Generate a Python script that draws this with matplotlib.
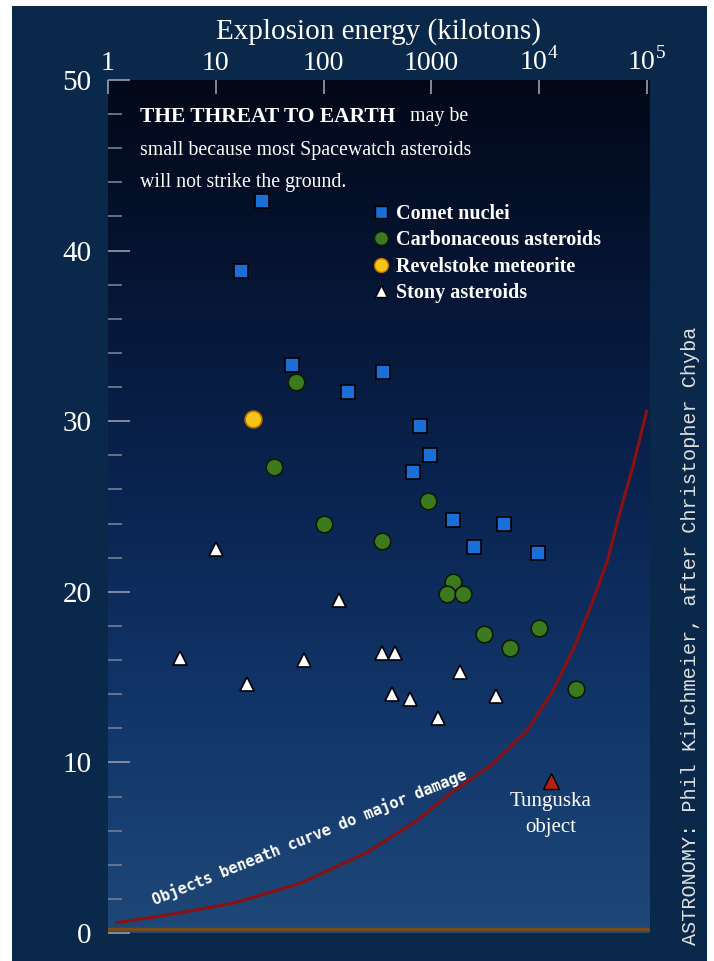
import numpy as np
import matplotlib
matplotlib.use("Agg")
import matplotlib.pyplot as plt
from matplotlib.lines import Line2D
from matplotlib.patches import Rectangle
from matplotlib.ticker import FixedLocator, FixedFormatter, MultipleLocator

plt.rcParams["font.family"] = ["Liberation Serif", "DejaVu Serif"]
plt.rcParams["mathtext.fontset"] = "custom"
plt.rcParams["mathtext.rm"] = "Liberation Serif"

# --------------------------------------------------------------------------
# DATA (energy in kilotons, altitude-like vertical value)
# --------------------------------------------------------------------------
comet_kt = [27, 17, 51, 170, 360, 780, 980, 680, 1580, 4700, 2500, 9800]
comet_h = [42.9, 38.8, 33.3, 31.7, 32.9, 29.7, 28.0, 27.0, 24.2, 24.0, 22.6, 22.3]

carb_kt = [56, 35, 930, 100, 350, 1600, 1400, 1950, 3100, 10000, 5400, 22000]
carb_h = [32.3, 27.3, 25.3, 24.0, 23.0, 20.6, 19.9, 19.9, 17.5, 17.9, 16.7, 14.3]

stony_kt = [10, 140, 4.7, 19.5, 66, 350, 460, 1860, 430, 630, 1150, 4000]
stony_h = [22.5, 19.5, 16.1, 14.6, 16.0, 16.4, 16.4, 15.3, 14.0, 13.7, 12.6, 13.9]

revelstoke_kt = [22]
revelstoke_h = [30.1]

tunguska_kt = [12900]
tunguska_h = [8.9]

curve_kt = [1.2, 3.5, 14.5, 60, 250, 740, 1580, 3700, 7800, 13500,
            21000, 30000, 43000, 56000, 74000, 100000]
curve_h = [0.6, 1.05, 1.75, 2.9, 4.7, 6.6, 8.3, 9.9, 11.9, 14.2,
           16.7, 19.1, 21.8, 24.6, 27.3, 30.6]

x_ticks = [1, 10, 100, 1000, 1e4, 1e5]
x_tick_labels = ["1", "10", "100", "1000", r"10$^4$", r"10$^5$"]
y_ticks = [0, 10, 20, 30, 40, 50]

NAVY = "#0a284a"
WHITE = "white"

# --------------------------------------------------------------------------
# FIGURE
# --------------------------------------------------------------------------
fig = plt.figure(figsize=(7.14, 9.61), dpi=100, facecolor=NAVY)
ax = fig.add_axes([108 / 714, 1 - 933 / 961, 542 / 714, 853 / 961])
ax.set_xscale("log")
ax.set_xlim(1, 10 ** 5.03)
ax.set_ylim(0, 50)

# vertical gradient background of the plot panel
grad = np.linspace(0, 1, 256).reshape(-1, 1)
cmap = matplotlib.colors.LinearSegmentedColormap.from_list(
    "sky", ["#1e4878", "#12366a", "#0a2552", "#061636", "#020818"])
ax.imshow(grad, extent=[0, 1, 0, 1], transform=ax.transAxes, cmap=cmap,
          aspect="auto", origin="lower", zorder=0)

for side in ax.spines.values():
    side.set_visible(False)

# ground line and threshold curve
ax.axhline(0.25, color="#7a4a18", lw=2.5, zorder=1)
ax.plot(curve_kt, curve_h, color="#8c1010", lw=2.2, zorder=2)

# points
ax.plot(comet_kt, comet_h, ls="none", marker="s", ms=10, mfc="#1a6fd6",
        mec="black", mew=1.2, zorder=4)
ax.plot(carb_kt, carb_h, ls="none", marker="o", ms=12, mfc="#3c7a1e",
        mec="#0d1a08", mew=1.2, zorder=4)
ax.plot(stony_kt, stony_h, ls="none", marker="^", ms=10, mfc="white",
        mec="black", mew=1.2, zorder=4)
ax.plot(revelstoke_kt, revelstoke_h, ls="none", marker="o", ms=12,
        mfc="#f5c518", mec="#c07000", mew=1.2, zorder=4)
ax.plot(tunguska_kt, tunguska_h, ls="none", marker="^", ms=11,
        mfc="#b52010", mec="black", mew=1.0, zorder=4)
ax.annotate("Tunguska\nobject", xy=(tunguska_kt[0], tunguska_h[0]),
            xytext=(0, -8), textcoords="offset points", ha="center", va="top",
            color=WHITE, fontsize=15, linespacing=1.45, zorder=5)

# ticks
ax.xaxis.tick_top()
ax.xaxis.set_major_locator(FixedLocator(x_ticks))
ax.xaxis.set_major_formatter(FixedFormatter(x_tick_labels))
ax.xaxis.set_minor_locator(FixedLocator([]))
ax.tick_params(axis="x", which="major", direction="in", length=10, width=1.3,
               color="#8a94a8", labelsize=20, labelcolor=WHITE, pad=3)
ax.set_yticks(y_ticks)
ax.yaxis.set_minor_locator(MultipleLocator(2))
ax.tick_params(axis="y", which="major", direction="in", length=16, width=1.3,
               color="#8a94a8", labelsize=21, labelcolor=WHITE, pad=12)
ax.tick_params(axis="y", which="minor", direction="in", length=10, width=1.3,
               color="#6c7890")
ax.set_xlabel("Explosion energy (kilotons)", color=WHITE, fontsize=21,
              labelpad=6)
ax.xaxis.set_label_position("top")

# legend
handles = [
    Line2D([], [], ls="none", marker="s", ms=8, mfc="#1a6fd6", mec="black"),
    Line2D([], [], ls="none", marker="o", ms=10, mfc="#3c7a1e", mec="#0d1a08"),
    Line2D([], [], ls="none", marker="o", ms=10, mfc="#f5c518", mec="#c07000"),
    Line2D([], [], ls="none", marker="^", ms=8, mfc="white", mec="black"),
]
labels = ["Comet nuclei", "Carbonaceous asteroids", "Revelstoke meteorite",
          "Stony asteroids"]
leg = ax.legend(handles, labels, loc="upper left",
                bbox_to_anchor=(373 / 714, 1 - 204 / 961),
                bbox_transform=fig.transFigure, frameon=False,
                prop={"family": "Liberation Serif", "weight": "bold", "size": 14.5},
                labelcolor=WHITE, handlelength=0.8, handletextpad=0.35,
                labelspacing=0.32, borderpad=0, borderaxespad=0)
leg.set_zorder(6)

# caption block
fig.text(140 / 714, 1 - 117 / 961, "THE THREAT TO EARTH", color=WHITE,
         fontsize=15.5, fontweight="bold", va="center")
fig.text(410 / 714, 1 - 117 / 961, "may be", color=WHITE, fontsize=14.3,
         va="center")
fig.text(140 / 714, 1 - 150 / 961, "small because most Spacewatch asteroids",
         color=WHITE, fontsize=14.3, va="center")
fig.text(140 / 714, 1 - 182 / 961, "will not strike the ground.",
         color=WHITE, fontsize=14.3, va="center")

# label along the curve
fig.text(155 / 714, 1 - 905 / 961, "Objects beneath curve do major damage",
         color=WHITE, fontsize=11, fontweight="bold", family="DejaVu Sans Mono",
         rotation=22, rotation_mode="anchor", ha="left", va="baseline")

# credit line
fig.text(690 / 714, 1 - 945 / 961,
         "ASTRONOMY: Phil Kirchmeier, after Christopher Chyba",
         color="#e0e0e0", fontsize=14.5, family="Liberation Mono",
         rotation=90, ha="center", va="bottom")

# white scan margins
for x0, y0, w, h in [(0, 0, 12 / 714, 1), (707 / 714, 0, 7 / 714, 1),
                     (0, 1 - 6 / 961, 1, 6 / 961)]:
    fig.patches.append(Rectangle((x0, y0), w, h, transform=fig.transFigure,
                                 facecolor="white", edgecolor="none", zorder=10))

fig.savefig("out.png", dpi=100, facecolor=NAVY)
